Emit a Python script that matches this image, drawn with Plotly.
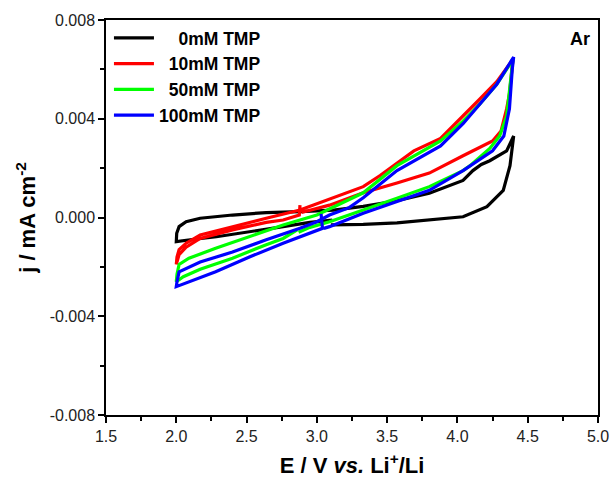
import plotly.graph_objects as go

# ---- data ----
names = ["\u2007\u20070mM TMP", "\u200710mM TMP", "\u200750mM TMP", "100mM TMP"]
colors = ["#000000", "#ff0000", "#00ff00", "#0000ff"]

E_0 = [3.11, 2.95, 2.76, 2.52, 2.285, 2.10, 2.0, 2.003, 2.02, 2.07, 2.17, 2.40, 2.64, 2.88, 3.12,
       3.33, 3.57, 3.80, 4.04, 4.11, 4.17, 4.23, 4.35, 4.40,
       4.393, 4.374, 4.326, 4.21, 4.04, 3.80, 3.57, 3.33, 3.10]
j_0 = [-0.0001, -0.0002, -0.00037, -0.00057, -0.00078, -0.0009, -0.00098, -0.00064, -0.00037, -0.00017,
       -0.00003, 0.0001, 0.0002, 0.00024, 0.0003,
       0.00045, 0.00068, 0.00098, 0.0015, 0.0019, 0.00215, 0.0023, 0.0027, 0.0033,
       0.0030, 0.0021, 0.0011, 0.00044, 0.00003, -0.0001, -0.00022, -0.00028, -0.0003]

E_10 = [2.88, 2.875, 2.76, 2.64, 2.40, 2.17, 2.07, 2.02, 2.0,
        2.005, 2.02, 2.07, 2.17, 2.40, 2.64, 2.88, 3.09, 3.33, 3.45, 3.57, 3.69, 3.88, 4.04, 4.16, 4.28, 4.395,
        4.37, 4.35, 4.31, 4.25, 4.04, 3.80, 3.57, 3.33, 3.09, 2.95, 2.89]
j_10 = [0.0005, 0.0001, -0.0001, -0.0002, -0.0005, -0.00085, -0.0012, -0.0015, -0.0019,
        -0.0016, -0.0013, -0.00104, -0.00071, -0.00037, -0.00003, 0.0003, 0.00075, 0.00125, 0.0017, 0.0022,
        0.0027, 0.0032, 0.0041, 0.0048, 0.0055, 0.0064,
        0.0050, 0.0044, 0.0035, 0.0031, 0.0025, 0.0018, 0.0014, 0.0010, 0.0005, 0.0003, 0.0002]

E_50 = [2.86, 2.76, 2.64, 2.40, 2.17, 2.05, 2.0,
        2.005, 2.02, 2.09, 2.28, 2.52, 2.76, 3.0, 3.09, 3.33, 3.57, 3.69, 3.88, 4.04, 4.16, 4.28, 4.395,
        4.35, 4.30, 4.23, 4.09, 4.04, 3.80, 3.57, 3.33, 3.09, 2.95, 2.87]
j_50 = [-0.0005, -0.00085, -0.0011, -0.00165, -0.0021, -0.0024, -0.0026,
        -0.0023, -0.0019, -0.00165, -0.00125, -0.00078, -0.0003, 0.0001, 0.00035, 0.001, 0.0021, 0.0025,
        0.0031, 0.0039, 0.0046, 0.0054, 0.0064,
        0.0041, 0.0033, 0.0028, 0.0021, 0.0019, 0.00125, 0.00078, 0.0003, -0.00017, -0.0004, -0.0006]

E_100 = [3.03, 3.035, 3.04, 2.76, 2.52, 2.28, 2.10, 2.0,
         2.005, 2.02, 2.17, 2.40, 2.64, 2.88, 3.0, 3.09, 3.23, 3.33, 3.57, 3.69, 3.88, 4.04, 4.16, 4.28, 4.40,
         4.39, 4.37, 4.33, 4.25, 4.04, 3.80, 3.57, 3.33, 3.09, 3.05]
j_100 = [0.00015, -0.0002, -0.00044, -0.00104, -0.0016, -0.0022, -0.0026, -0.0028,
         -0.0026, -0.0022, -0.0018, -0.0014, -0.0009, -0.00044, -0.00017, 0.0001, 0.0004, 0.0008, 0.0019,
         0.0023, 0.0029, 0.0038, 0.0046, 0.0054, 0.0065,
         0.0060, 0.0044, 0.0033, 0.0027, 0.0019, 0.0011, 0.00064, 0.00017, -0.00037, -0.00044]

x_ticks = [1.5, 2.0, 2.5, 3.0, 3.5, 4.0, 4.5, 5.0]
y_ticks = [-0.008, -0.004, 0.0, 0.004, 0.008]

series = [(E_0, j_0), (E_10, j_10), (E_50, j_50), (E_100, j_100)]

FONT = "Liberation Sans, Arial, sans-serif"

fig = go.Figure()
for (E, j), nm, c in zip(series, names, colors):
    fig.add_trace(go.Scatter(x=E, y=j, mode="lines", name=f"<b>{nm}</b>",
                             line=dict(color=c, width=3.2)))

axis_common = dict(showgrid=False, zeroline=False, showline=True, linecolor="black", linewidth=1.5,
                   mirror=True, ticks="outside", ticklen=6, tickwidth=1.5, tickcolor="black",
                   automargin=False,
                   tickfont=dict(family=FONT, size=16, color="#222"))

fig.update_xaxes(range=[1.5, 5.0], tickvals=x_ticks, ticktext=[f"{v:.1f}" for v in x_ticks],
                 minor=dict(dtick=0.25, ticks="outside", ticklen=4, tickwidth=1.5, tickcolor="black"),
                 title=dict(text="<b>E / V <i>vs.</i> Li<sup>+</sup>/Li</b>",
                            font=dict(family=FONT, size=22, color="black"), standoff=14),
                 **axis_common)
fig.update_yaxes(range=[-0.008, 0.008], tickvals=y_ticks, ticktext=[f"{v:.3f}" for v in y_ticks],
                 minor=dict(dtick=0.002, ticks="outside", ticklen=4, tickwidth=1.5, tickcolor="black"),
                 title=dict(text="<b>j / mA cm<sup>-2</sup></b>",
                            font=dict(family=FONT, size=22, color="black"), standoff=8),
                 **axis_common)

fig.add_annotation(text="<b>Ar</b>", xref="paper", yref="paper", x=0.987, y=0.953,
                   xanchor="right", yanchor="middle", showarrow=False,
                   font=dict(family=FONT, size=18, color="black"))

fig.update_layout(
    width=614, height=479,
    margin=dict(l=106, r=16, t=20, b=64),
    paper_bgcolor="white", plot_bgcolor="white",
    showlegend=True,
    legend=dict(x=0.006, y=1.0, xanchor="left", yanchor="top", bgcolor="rgba(0,0,0,0)",
                font=dict(family=FONT, size=17.5, color="black"), itemwidth=40,
                tracegroupgap=0, traceorder="normal"),
    font=dict(family=FONT),
)

fig.write_html("out.html", config={"displayModeBar": False},
               post_script="document.body.style.margin='0';")
